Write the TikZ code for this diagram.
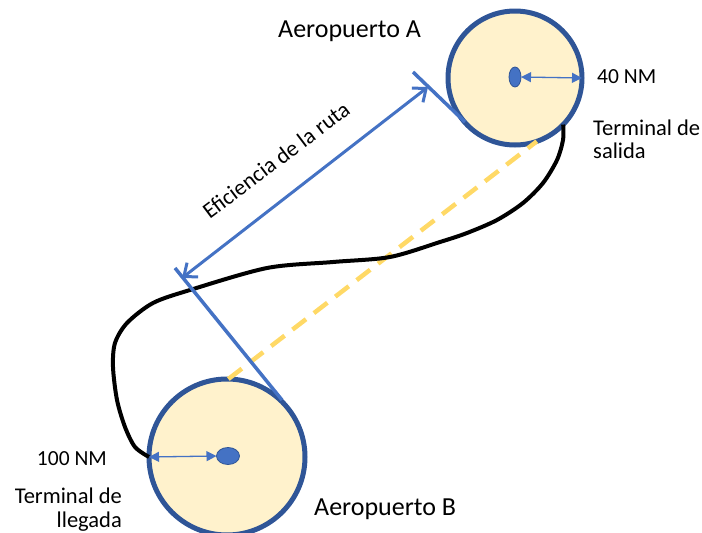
\documentclass[tikz,border=0pt]{standalone}
\usepackage{fontspec}
\setmainfont{Carlito}
\usetikzlibrary{arrows.meta,shapes.geometric}
\definecolor{ringblue}{HTML}{2F5597}
\definecolor{fillcream}{HTML}{FFF2CC}
\definecolor{lineblue}{HTML}{4472C4}
\definecolor{dashgold}{HTML}{FFD966}
\begin{document}
\begin{tikzpicture}[x=1pt,y=-1pt,
  airport/.style={circle, draw=ringblue, fill=fillcream, line width=5pt, inner sep=0pt, outer sep=0pt},
  hub/.style={ellipse, draw=ringblue, fill=lineblue, line width=0.8pt, inner sep=0pt, outer sep=0pt},
  tangentline/.style={draw=lineblue, line width=3.5pt},
  spanarrow/.style={draw=lineblue, line width=3pt, {Straight Barb[length=11pt,width=18pt]}-{Straight Barb[length=11pt,width=18pt]}},
  radiusarrow/.style={draw=lineblue, line width=1.3pt, {Triangle[length=10pt,width=10pt]}-{Triangle[length=10pt,width=10pt]}},
  directline/.style={draw=dashgold, line width=4.5pt, dash pattern=on 17pt off 10pt},
  flightpath/.style={draw=black, line width=4pt},
  biglabel/.style={font=\fontsize{26}{30}\selectfont, inner sep=0pt},
  smalllabel/.style={font=\fontsize{22.5}{26}\selectfont, inner sep=0pt},
  nmlabel/.style={font=\fontsize{21.5}{26}\selectfont, inner sep=0pt}
]
\useasboundingbox (0,0) rectangle (702,533);

% airports
\node[airport, minimum size=134pt] (cA) at (515,78) {};
\node[airport, minimum size=156pt] (cB) at (227,457) {};
\node[hub, minimum width=12pt, minimum height=20pt] (dA) at (515,77) {};
\node[hub, minimum width=23pt, minimum height=17pt] (dB) at (228,456) {};

% direct (great circle) line
\draw[directline] (cB.89) -- (cA.-71);

% actual flight path
\draw[flightpath] plot[smooth, tension=0.5] coordinates {(cB.180) (135,447) (125,427) (117,400) (113,367) (115,343) (127,323) (153,303) (190,290) (267,268) (333,262) (390,257) (440,242) (467,233) (497,220) (523,203) (543,183) (557,160) (563,140) (cA.-44)};

% tangent lines and route-efficiency arrow
\coordinate (tA1) at (413,72);
\coordinate (tA2) at (465,122);
\coordinate (tB1) at (175,268);
\coordinate (tB2) at (282,400);
\coordinate (arrB) at (182,278);
\coordinate (arrA) at (428,87);
\draw[tangentline] (tA1) -- (tA2);
\draw[tangentline] (tB1) -- (tB2);
\draw[spanarrow] (arrB) -- (arrA);
\node[smalllabel, rotate=37] (eff) at (276,160) {Eficiencia de la ruta};

% radius arrows
\draw[radiusarrow] (dA.east) -- (cA.east);
\draw[radiusarrow] (cB.west) -- (dB.west);

% labels
\node[biglabel, anchor=base west] (labA) at (278,37) {Aeropuerto A};
\node[biglabel, anchor=base west] (labB) at (314,515) {Aeropuerto B};
\node[nmlabel, anchor=base west] (nmA) at (597,83) {40 NM};
\node[smalllabel, anchor=base west] (depA) at (593,135) {Terminal de};
\node[smalllabel, anchor=base west] (depB) at (593,158) {salida};
\node[nmlabel, anchor=base east] (nmB) at (107,465) {100 NM};
\node[smalllabel, anchor=base east] (arrT1) at (122,503) {Terminal de};
\node[smalllabel, anchor=base east] (arrT2) at (122,527) {llegada};
\end{tikzpicture}
\end{document}
